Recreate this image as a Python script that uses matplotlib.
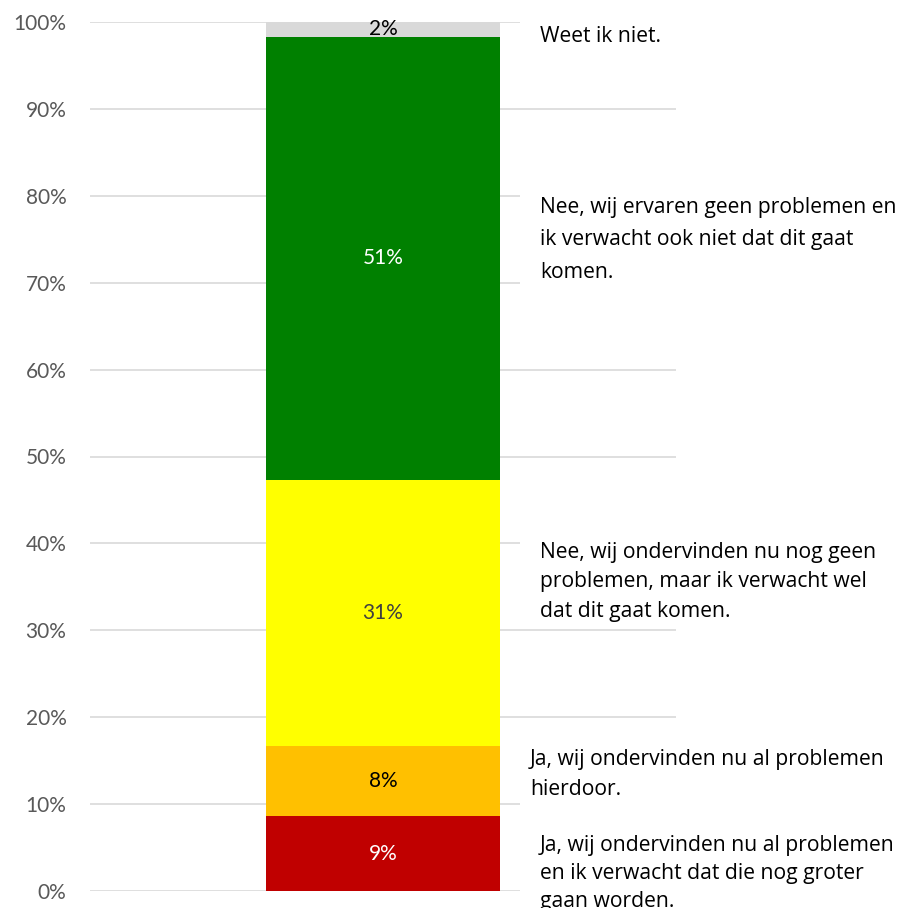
import matplotlib
matplotlib.use("Agg")
import matplotlib.pyplot as plt
from matplotlib.patches import Rectangle

# Data (stacked from bottom to top)
categories = [
    "Ja, wij ondervinden nu al problemen\nen ik verwacht dat die nog groter\ngaan worden.",
    "Ja, wij ondervinden nu al problemen\nhierdoor.",
    "Nee, wij ondervinden nu nog geen\nproblemen, maar ik verwacht wel\ndat dit gaat komen.",
    "Nee, wij ervaren geen problemen en\nik verwacht ook niet dat dit gaat\nkomen.",
    "Weet ik niet.",
]
values = [8.6, 8.1, 30.6, 51.0, 1.7]
value_labels = ["9%", "8%", "31%", "51%", "2%"]
colors = ["#C00000", "#FFC000", "#FFFF00", "#008000", "#D9D9D9"]
label_colors = ["white", "black", "#404040", "white", "black"]
tick_values = [0, 10, 20, 30, 40, 50, 60, 70, 80, 90, 100]
tick_labels = [f"{v}%" for v in tick_values]

plt.rcParams['font.family'] = ['Lato', 'DejaVu Sans']

W, H = 900, 908
fig = plt.figure(figsize=(W / 100, H / 100), dpi=100)
ax = fig.add_axes([90 / W, 1 - 891 / H, (676 - 90) / W, (891 - 22) / H])

bottom = 0.0
for v, c, lab, lc in zip(values, colors, value_labels, label_colors):
    ax.bar(0, v, bottom=bottom, width=0.4, color=c, zorder=2)
    ax.text(0, bottom + v / 2, lab, ha="center", va="center",
            color=lc, fontsize=15, zorder=3)
    bottom += v

ax.set_xlim(-0.5, 0.5)
ax.set_ylim(0, 100)
ax.set_yticks(tick_values)
ax.set_yticklabels(tick_labels)
ax.set_xticks([])
ax.yaxis.grid(True, color="#D9D9D9", linewidth=1.2, zorder=0)
ax.set_axisbelow(True)
for s in ax.spines.values():
    s.set_visible(False)
ax.tick_params(axis="y", length=0, pad=17, labelsize=15, labelcolor="#595959")

# White text boxes (cover gridlines, as in the original); bottom-to-top order
boxes = [  # (y_top_px, y_bottom_px, x_text_px, y_center_px, linespacing)
    (824, 908, 540, 873.5, 1.45),
    (738, 815, 530, 774.5, 1.53),
    (534, 622, 540, 582, 1.53),
    (182, 292, 540, 240, 1.74),
    (12, 62, 540, 37, 1.5),
]
for cat, (yt, yb, xt, yc, ls) in zip(categories, boxes):
    fig.add_artist(Rectangle((520 / W, 1 - yb / H), (900 - 520) / W, (yb - yt) / H,
                             transform=fig.transFigure, facecolor="white",
                             edgecolor="none", zorder=5))
    fig.text(xt / W, 1 - yc / H, cat, ha="left", va="center", fontsize=15.2,
             family=['Open Sans', 'DejaVu Sans'],
             color="black", linespacing=ls, zorder=6)

fig.savefig("out.png", dpi=100)
